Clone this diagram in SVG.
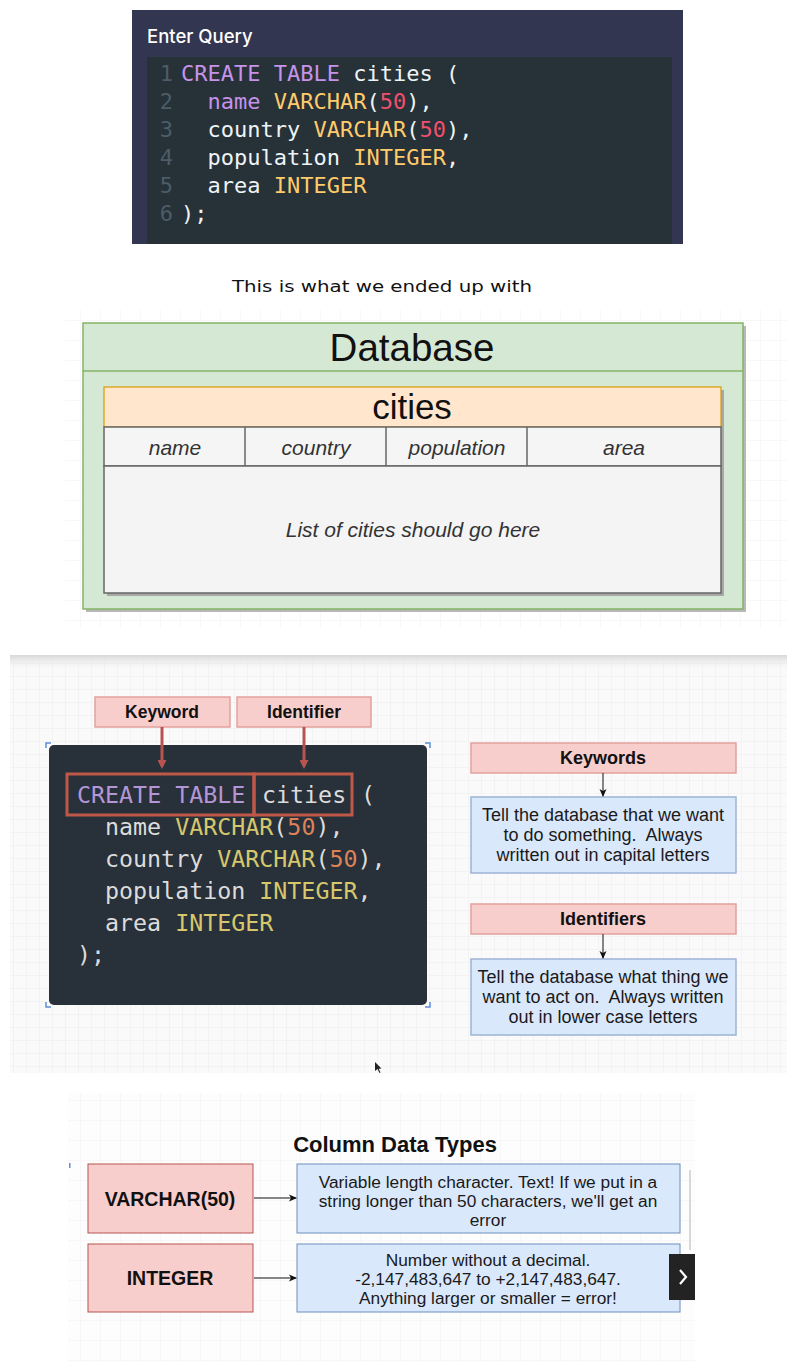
<svg xmlns="http://www.w3.org/2000/svg" width="797" height="1372" viewBox="0 0 797 1372">
<style>
.mono{font-family:"DejaVu Sans Mono","Liberation Mono",monospace;white-space:pre}
.sans{font-family:"Liberation Sans",Arial,sans-serif}
.it{font-family:"Liberation Sans",Arial,sans-serif;font-style:italic;fill:#333}
.b{font-weight:bold}
.pink{fill:#f8cecc;stroke:#b85450;stroke-width:1}
.pink2{fill:#f8cecc;stroke:#e3a19c;stroke-width:1.5}
.blue{fill:#dae8fc;stroke:#9db3d6;stroke-width:1.5}
.blue2{fill:#dae8fc;stroke:#6c8ebf;stroke-width:1}
.ln{fill:#4c5d68}
.p1w{fill:#eef4f6}
.p1k{fill:#c792ea}
.p1y{fill:#ffcb6b}
.p1r{fill:#f0506e}
.p3w{fill:#dcdcdc}
.p3k{fill:#b496d6}
.p3y{fill:#d6c76c}
.p3r{fill:#dd8257}
.c{text-anchor:middle}
</style>
<defs>
<pattern id="grid" width="13" height="13" patternUnits="userSpaceOnUse">
<path d="M13 0H0V13" fill="none" stroke="#ececec" stroke-width="1"/>
</pattern>
<pattern id="grid2" width="20" height="20" patternUnits="userSpaceOnUse">
<path d="M20 0H0V20" fill="none" stroke="#f1f1f1" stroke-width="1"/>
</pattern>
<marker id="redArrow" markerWidth="9" markerHeight="9" refX="6" refY="4.5" orient="auto" markerUnits="userSpaceOnUse" viewBox="0 0 9 9">
<path d="M0 0L9 4.5L0 9Z" fill="#b85450"/>
</marker>
<marker id="blackArrow" markerWidth="8" markerHeight="8" refX="7" refY="4" orient="auto" markerUnits="userSpaceOnUse" viewBox="0 0 8 8">
<path d="M0 0.5L8 4L0 7.5L2 4Z" fill="#111"/>
</marker>
<linearGradient id="topShade" x1="0" y1="0" x2="0" y2="1">
<stop offset="0" stop-color="#d8d8d8"/>
<stop offset="1" stop-color="#f8f8f8" stop-opacity="0"/>
</linearGradient>
</defs>
<rect width="797" height="1372" fill="#ffffff"/>

<!-- Panel 1: Enter Query -->
<g id="query-panel">
<rect x="132" y="10" width="551" height="234" fill="#323650"/>
<text x="147" y="43" font-family="Inter,'Open Sans',sans-serif" font-size="18.5" font-weight="500" fill="#ffffff">Enter Query</text>
<rect x="147" y="57" width="525" height="187" fill="#263138"/>
<g class="mono" font-size="22" text-anchor="end">
<text class="ln" x="173" y="81">1</text>
<text class="ln" x="173" y="109">2</text>
<text class="ln" x="173" y="137">3</text>
<text class="ln" x="173" y="165">4</text>
<text class="ln" x="173" y="193">5</text>
<text class="ln" x="173" y="221">6</text>
</g>
<g class="mono" font-size="22">
<text x="181" y="81" xml:space="preserve"><tspan class="p1k">CREATE TABLE</tspan><tspan class="p1w"> cities (</tspan></text>
<text x="207.5" y="109" xml:space="preserve"><tspan class="p1k">name</tspan><tspan class="p1w"> </tspan><tspan class="p1y">VARCHAR</tspan><tspan class="p1w">(</tspan><tspan class="p1r">50</tspan><tspan class="p1w">),</tspan></text>
<text x="207.5" y="137" xml:space="preserve"><tspan class="p1w">country </tspan><tspan class="p1y">VARCHAR</tspan><tspan class="p1w">(</tspan><tspan class="p1r">50</tspan><tspan class="p1w">),</tspan></text>
<text x="207.5" y="165" xml:space="preserve"><tspan class="p1w">population </tspan><tspan class="p1y">INTEGER</tspan><tspan class="p1w">,</tspan></text>
<text x="207.5" y="193" xml:space="preserve"><tspan class="p1w">area </tspan><tspan class="p1y">INTEGER</tspan></text>
<text x="181" y="221" class="p1w">);</text>
</g>
</g>

<g id="caption">
<text x="382" y="292" class="c" font-family="'DejaVu Sans',sans-serif" font-size="16" fill="#111" textLength="300" lengthAdjust="spacingAndGlyphs">This is what we ended up with</text>
</g>

<!-- Panel 2: Database -->
<rect x="65" y="310" width="722" height="318" fill="url(#grid2)"/>
<g id="database">
<rect x="86" y="326" width="660" height="286" fill="#b8b8b8"/>
<rect x="83" y="323" width="660" height="286" fill="#d5e8d4" stroke="#82b366" stroke-width="1.5"/>
<line x1="83" y1="371" x2="743" y2="371" stroke="#82b366" stroke-width="1.5"/>
<text x="412" y="361" class="sans c" font-size="38.5" fill="#111">Database</text>
</g>
<g id="cities-table">
<rect x="107" y="390" width="617" height="206" fill="#a8a8a8"/>
<rect x="104" y="387" width="617" height="40" fill="#ffe6cc" stroke="#d79b00" stroke-width="1.2"/>
<text x="412" y="419" class="sans c" font-size="35" fill="#111">cities</text>
<rect x="104" y="427" width="617" height="39" fill="#f5f5f5" stroke="#666" stroke-width="1.5"/>
<line x1="245" y1="427" x2="245" y2="466" stroke="#666" stroke-width="1.5"/>
<line x1="386" y1="427" x2="386" y2="466" stroke="#666" stroke-width="1.5"/>
<line x1="527" y1="427" x2="527" y2="466" stroke="#666" stroke-width="1.5"/>
<text x="175" y="455" class="it c" font-size="21">name</text>
<text x="316" y="455" class="it c" font-size="21">country</text>
<text x="457" y="455" class="it c" font-size="21">population</text>
<text x="624" y="455" class="it c" font-size="21">area</text>
<rect x="104" y="466" width="617" height="127" fill="#f4f4f5" stroke="#666" stroke-width="1.5"/>
<text x="413" y="537" class="it c" font-size="21">List of cities should go here</text>
</g>

<!-- Panel 3: Keywords / Identifiers -->
<rect x="10" y="655" width="777" height="418" fill="#fafafa"/>
<rect x="10" y="655" width="777" height="418" fill="url(#grid)"/>
<rect x="10" y="655" width="777" height="16" fill="url(#topShade)"/>
<g id="code-box">
<rect x="49" y="745" width="378" height="260" rx="5" fill="#283039"/>
<g fill="none" stroke="#5d8fd6" stroke-width="1.5">
<path d="M46 748V743H51"/><path d="M425 743H430V748"/><path d="M46 1002V1007H51"/><path d="M425 1007H430V1002"/>
</g>
<rect x="67" y="774" width="187" height="41" fill="none" stroke="#c0584a" stroke-width="3"/>
<rect x="254" y="774" width="98" height="41" fill="none" stroke="#c0584a" stroke-width="3"/>
<g class="mono" font-size="23.3">
<text x="77" y="803" class="p3k" xml:space="preserve">CREATE TABLE</text>
<text x="262" y="803" class="p3w">cities</text>
<text x="361" y="803" class="p3w">(</text>
<text x="105" y="835" xml:space="preserve"><tspan class="p3w">name </tspan><tspan class="p3y">VARCHAR</tspan><tspan class="p3w">(</tspan><tspan class="p3r">50</tspan><tspan class="p3w">),</tspan></text>
<text x="105" y="867" xml:space="preserve"><tspan class="p3w">country </tspan><tspan class="p3y">VARCHAR</tspan><tspan class="p3w">(</tspan><tspan class="p3r">50</tspan><tspan class="p3w">),</tspan></text>
<text x="105" y="899" xml:space="preserve"><tspan class="p3w">population </tspan><tspan class="p3y">INTEGER</tspan><tspan class="p3w">,</tspan></text>
<text x="105" y="931" xml:space="preserve"><tspan class="p3w">area </tspan><tspan class="p3y">INTEGER</tspan></text>
<text x="77" y="963" class="p3w">);</text>
</g>
</g>
<g id="keyword-label">
<rect x="95" y="697" width="135" height="30" class="pink2"/>
<text x="162" y="718" class="sans b c" font-size="17.5" fill="#111">Keyword</text>
</g>
<g id="identifier-label">
<rect x="237" y="697" width="134" height="30" class="pink2"/>
<text x="304" y="718" class="sans b c" font-size="17.5" fill="#111">Identifier</text>
</g>
<g id="keywords-head">
<rect x="471" y="743" width="265" height="30" class="pink2"/>
<text x="603" y="764" class="sans b c" font-size="18" fill="#111">Keywords</text>
</g>
<g id="keywords-desc">
<rect x="471" y="797" width="265" height="76" class="blue"/>
<text class="sans c" font-size="18" fill="#1a1a1a" xml:space="preserve"><tspan x="603" y="821">Tell the database that we want</tspan><tspan x="603" y="841">to do something.  Always</tspan><tspan x="603" y="861">written out in capital letters</tspan></text>
</g>
<g id="identifiers-head">
<rect x="471" y="904" width="265" height="30" class="pink2"/>
<text x="603" y="925" class="sans b c" font-size="18" fill="#111">Identifiers</text>
</g>
<g id="identifiers-desc">
<rect x="471" y="959" width="265" height="76" class="blue"/>
<text class="sans c" font-size="18" fill="#1a1a1a" xml:space="preserve"><tspan x="603" y="983">Tell the database what thing we</tspan><tspan x="603" y="1003">want to act on.  Always written</tspan><tspan x="603" y="1023">out in lower case letters</tspan></text>
</g>
<g id="cursor">
<path d="M375 1062L375 1071L377.5 1069L379.5 1073L380.5 1072.5L378.7 1068.7L381.5 1068.5Z" fill="#222"/>
</g>

<!-- Panel 4: Column Data Types -->
<rect x="68" y="1093" width="627" height="269" fill="#fdfdfd"/>
<rect x="68" y="1093" width="627" height="269" fill="url(#grid2)"/>
<line x1="690" y1="1170" x2="690" y2="1250" stroke="#d8d8d8" stroke-width="2"/>
<rect x="69" y="1163" width="1.5" height="5" fill="#5d8fd6"/>
<text x="395" y="1152" class="sans b c" font-size="22" fill="#111">Column Data Types</text>
<g id="varchar">
<rect x="88" y="1164" width="165" height="69" class="pink"/>
<text x="170" y="1206" class="sans b c" font-size="19.5" fill="#111">VARCHAR(50)</text>
</g>
<g id="varchar-desc">
<rect x="297" y="1164" width="383" height="69" class="blue2"/>
<text class="sans c" font-size="17.3" fill="#1a1a1a"><tspan x="488" y="1188">Variable length character. Text! If we put in a</tspan><tspan x="488" y="1207">string longer than 50 characters, we'll get an</tspan><tspan x="488" y="1226">error</tspan></text>
</g>
<g id="integer">
<rect x="88" y="1244" width="165" height="68" class="pink"/>
<text x="170" y="1285" class="sans b c" font-size="19.5" fill="#111">INTEGER</text>
</g>
<g id="integer-desc">
<rect x="297" y="1244" width="383" height="68" class="blue2"/>
<text class="sans c" font-size="17.3" fill="#1a1a1a"><tspan x="488" y="1266">Number without a decimal.</tspan><tspan x="488" y="1285">-2,147,483,647 to +2,147,483,647.</tspan><tspan x="488" y="1304">Anything larger or smaller = error!</tspan></text>
</g>
<g id="next-button">
<rect x="669" y="1254" width="26" height="46" fill="#232323"/>
<path d="M680 1270L686 1277L680 1284" fill="none" stroke="#fff" stroke-width="2.2"/>
</g>

<g id="connectors">
<line x1="162" y1="727" x2="162" y2="766" stroke="#b85450" stroke-width="3" marker-end="url(#redArrow)"/>
<line x1="304" y1="727" x2="304" y2="766" stroke="#b85450" stroke-width="3" marker-end="url(#redArrow)"/>
<line x1="603" y1="773" x2="603" y2="796" stroke="#111" stroke-width="1" marker-end="url(#blackArrow)"/>
<line x1="603" y1="934" x2="603" y2="958" stroke="#111" stroke-width="1" marker-end="url(#blackArrow)"/>
<line x1="254" y1="1198" x2="296" y2="1198" stroke="#111" stroke-width="1" marker-end="url(#blackArrow)"/>
<line x1="254" y1="1278" x2="296" y2="1278" stroke="#111" stroke-width="1" marker-end="url(#blackArrow)"/>
</g>
</svg>
